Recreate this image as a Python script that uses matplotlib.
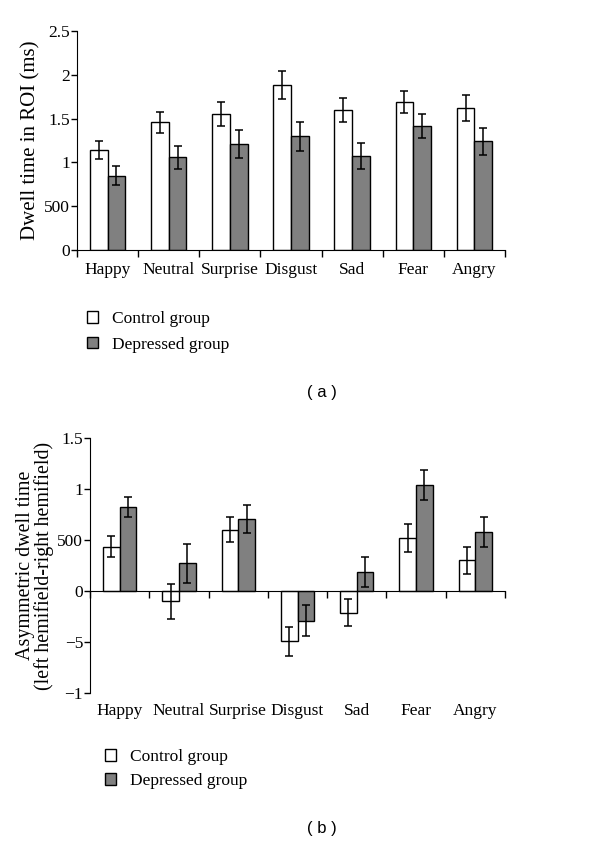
import numpy as np
import matplotlib
matplotlib.use('Agg')
import matplotlib.pyplot as plt

# data
emotions = ['Happy', 'Neutral', 'Surprise', 'Disgust', 'Sad', 'Fear', 'Angry']

dwell_control = [1.14, 1.46, 1.55, 1.88, 1.60, 1.69, 1.62]
dwell_control_err = [0.10, 0.12, 0.14, 0.16, 0.14, 0.13, 0.145]
dwell_depressed = [0.85, 1.06, 1.21, 1.30, 1.07, 1.415, 1.24]
dwell_depressed_err = [0.11, 0.13, 0.155, 0.165, 0.15, 0.14, 0.158]

asym_control = [0.435, -0.10, 0.60, -0.493, -0.212, 0.52, 0.30]
asym_control_err = [0.105, 0.17, 0.124, 0.142, 0.135, 0.135, 0.136]
asym_depressed = [0.824, 0.271, 0.706, -0.294, 0.186, 1.042, 0.575]
asym_depressed_err = [0.10, 0.19, 0.14, 0.152, 0.147, 0.145, 0.147]

top_ticks = [0, 0.5, 1, 1.5, 2, 2.5]
top_ticklabels = ['0', '500', '1', '1.5', '2', '2.5']
bot_ticks = [-1, -0.5, 0, 0.5, 1, 1.5]
bot_ticklabels = ['\u22121', '\u22125', '0', '500', '1', '1.5']

serif = 'Liberation Serif'
grey = '#808080'

fig = plt.figure(figsize=(6, 8.44), dpi=100)
W, H = 600, 844


def add_axes_px(left, top, right, bottom):
    return fig.add_axes([left / W, 1 - bottom / H, (right - left) / W, (bottom - top) / H])


def draw_panel(ax, ctrl, ctrl_err, dep, dep_err, bw):
    x = np.arange(len(emotions))
    eb = dict(ecolor='black', elinewidth=1.1, capsize=2.6, capthick=1.1)
    b1 = ax.bar(x - bw / 2, ctrl, bw, yerr=ctrl_err, color='white',
                edgecolor='black', linewidth=1, error_kw=eb, label='Control group', zorder=2)
    b2 = ax.bar(x + bw / 2, dep, bw, yerr=dep_err, color=grey,
                edgecolor='black', linewidth=1, error_kw=eb, label='Depressed group', zorder=2)
    ax.set_xlim(-0.5, len(emotions) - 0.5)
    ax.spines['top'].set_visible(False)
    ax.spines['right'].set_visible(False)
    ax.set_xticks(x)
    ax.set_xticks(np.arange(len(emotions) + 1) - 0.5, minor=True)
    ax.tick_params(axis='x', which='major', length=0, labelbottom=False)
    ax.tick_params(axis='x', which='minor', length=5, width=1, direction='out')
    ax.tick_params(axis='y', length=4, width=1, direction='out', pad=1, labelsize=12.5)
    return b1, b2


# panel (a)
ax1 = add_axes_px(77, 31, 505, 250)
draw_panel(ax1, dwell_control, dwell_control_err, dwell_depressed, dwell_depressed_err, 0.29)
ax1.set_ylim(0, 2.5)
ax1.set_yticks(top_ticks)
ax1.set_yticklabels(top_ticklabels, family=serif, fontsize=12.5)
for i, name in enumerate(emotions):
    ax1.text(i, -0.09, name, transform=ax1.get_xaxis_transform(), ha='center', va='center',
             family=serif, fontsize=12.5)
ax1.set_ylabel('Dwell time in ROI (ms)', family=serif, fontsize=15, labelpad=3)
ax1.legend(loc='upper left', bbox_to_anchor=(87 / W, 1 - 311 / H), bbox_transform=fig.transFigure,
           frameon=False, borderpad=0, borderaxespad=0, handlelength=0.65, handleheight=0.65,
           handletextpad=0.8, labelspacing=0.55, prop={'family': serif, 'size': 12.5})
fig.text(322 / W, 1 - 392 / H, '( a )', ha='center', va='center', family='Liberation Sans', fontsize=12)

# panel (b)
ax2 = add_axes_px(90, 438, 505, 693)
draw_panel(ax2, asym_control, asym_control_err, asym_depressed, asym_depressed_err, 0.28)
ax2.set_ylim(-1, 1.5)
ax2.set_yticks(bot_ticks)
ax2.set_yticklabels(bot_ticklabels, family=serif, fontsize=12.5)
ax2.spines['bottom'].set_position(('data', 0))
for i, name in enumerate(emotions):
    ax2.text(i, -0.07, name, transform=ax2.get_xaxis_transform(), ha='center', va='center',
             family=serif, fontsize=12.5)
ax2.set_ylabel('Asymmetric dwell time\n(left hemifield-right hemifield)', family=serif,
               fontsize=14.4, labelpad=2, linespacing=0.95)
ax2.legend(loc='upper left', bbox_to_anchor=(105 / W, 1 - 749 / H), bbox_transform=fig.transFigure,
           frameon=False, borderpad=0, borderaxespad=0, handlelength=0.65, handleheight=0.65,
           handletextpad=0.8, labelspacing=0.45, prop={'family': serif, 'size': 12.5})
fig.text(322 / W, 1 - 828 / H, '( b )', ha='center', va='center', family='Liberation Sans', fontsize=12)

fig.savefig('out.png', dpi=100)
